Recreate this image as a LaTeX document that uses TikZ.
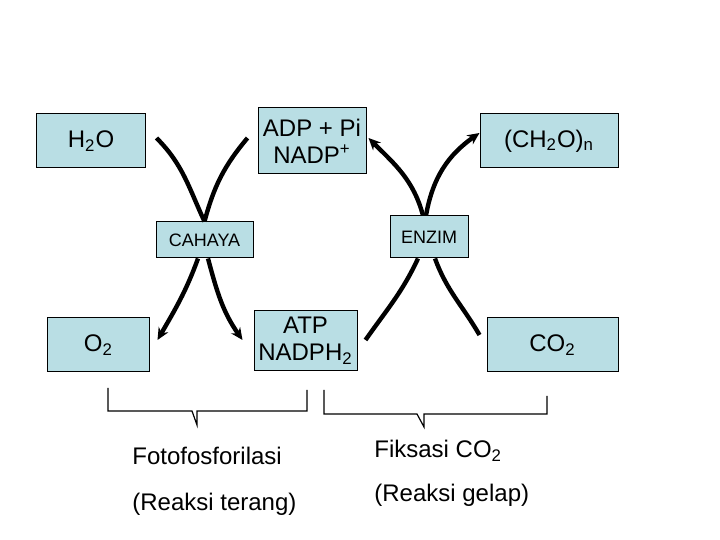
\documentclass[tikz,border=0pt]{standalone}
\usepackage{fontspec}
\setmainfont{Liberation Sans}
\usetikzlibrary{arrows.meta}
\definecolor{boxfill}{RGB}{185,222,228}
\begin{document}
\begin{tikzpicture}[x=0.5bp,y=0.5bp,
    box/.style={draw,line width=0.5bp,fill=boxfill,inner sep=0pt,align=center,
      font=\fontsize{12bp}{13.5bp}\selectfont},
    smallbox/.style={box,font=\fontsize{9bp}{11bp}\selectfont},
    caption/.style={inner sep=0pt,anchor=base west,font=\fontsize{12bp}{14bp}\selectfont},
    flow/.style={line width=2.2bp},
    >={Stealth[length=6bp,width=5.5bp]}]
  \useasboundingbox (0,0) rectangle (720,540);
  % boxes
  \node[box,minimum width=54bp,minimum height=27bp] (H2O) at (91,399) {H\textsubscript{2}O};
  \node[box,minimum width=54bp,minimum height=33bp] (ADP) at (312,399) {ADP + Pi\\NADP\textsuperscript{+}};
  \node[box,minimum width=69bp,minimum height=27bp] (CH2O) at (549,399) {(CH\textsubscript{2}O)\textsubscript{n}};
  \node[smallbox,minimum width=48.5bp,minimum height=18bp] (CAHAYA) at (204.5,300) {CAHAYA};
  \node[smallbox,minimum width=39bp,minimum height=21bp] (ENZIM) at (429,303) {ENZIM};
  \node[box,minimum width=50.5bp,minimum height=27bp] (O2) at (98.5,195) {O\textsubscript{2}};
  \node[box,minimum width=51.5bp,minimum height=30bp] (ATP) at (305.5,199) {ATP\\NADPH\textsubscript{2}};
  \node[box,minimum width=65.5bp,minimum height=27bp] (CO2) at (552.5,195) {CO\textsubscript{2}};
  % light reaction
  \draw[flow] ([shift={(11,3)}]H2O.east) to[out=-45,in=115] (CAHAYA.north);
  \draw[flow] ([shift={(-10,3)}]ADP.west) to[out=-130,in=75] (CAHAYA.north);
  \draw[flow,->] ([shift={(-6.5,0)}]CAHAYA.south) to[out=-110,in=60] ([shift={(8,5)}]O2.east);
  \draw[flow,->] ([shift={(3.5,0)}]CAHAYA.south) to[out=-75,in=125] ([shift={(-11,1)}]ATP.west);
  % dark reaction
  \draw[flow,->] ([shift={(-6,0)}]ENZIM.north) to[out=105,in=-45] ([shift={(2,3)}]ADP.east);
  \draw[flow,->] ([shift={(-3,0)}]ENZIM.north) to[out=80,in=-145] ([shift={(0,8)}]CH2O.west);
  \draw[flow] ([shift={(8,1)}]ATP.east) to[out=55,in=-115] ([shift={(-11,0)}]ENZIM.south);
  \draw[flow] ([shift={(-7,10)}]CO2.west) to[out=120,in=-70] ([shift={(6,0)}]ENZIM.south);
  % brackets
  \draw[line width=0.6bp] (108,152) -- (108,129) -- (192,129) -- (197,115) -- (197,129) -- (307,129) -- (307,150);
  \draw[line width=0.6bp] (324,150) -- (324,126) -- (417,126) -- (424,113) -- (424,126) -- (547,126) -- (547,144);
  % captions
  \node[caption] (FOTO) at (132,75) {Fotofosforilasi};
  \node[caption] (TERANG) at (132,29) {(Reaksi terang)};
  \node[caption] (FIKSASI) at (374,82) {Fiksasi CO\textsubscript{2}};
  \node[caption] (GELAP) at (374,38) {(Reaksi gelap)};
\end{tikzpicture}
\end{document}
